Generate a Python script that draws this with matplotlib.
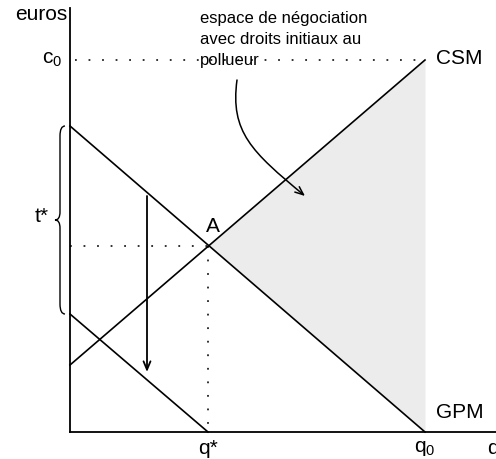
import matplotlib
matplotlib.use('Agg')
import matplotlib.pyplot as plt
from matplotlib.path import Path
from matplotlib.patches import PathPatch, FancyArrowPatch
import numpy as np

plt.rcParams['font.family'] = ['Liberation Sans', 'DejaVu Sans']
plt.rcParams['mathtext.fontset'] = 'custom'
plt.rcParams['mathtext.rm'] = 'Liberation Sans'

# economic coordinates: quantity on x, euros on y
csm_q = [0, 355]
csm_p = [67, 372]
gpm_q = [0, 355]
gpm_p = [306, 0]
gpm_low_q = [0, 138]
gpm_low_p = [118, 0]
q_star = 138
p_star = 186
q0 = 355
c0 = 372
tax_arrow = (77, 236, 60)       # q, p start, p end
note_arrow = [(167, 352), (160, 300), (182, 280), (235, 236)]
note_text = "espace de négociation\navec droits initiaux au\npollueur"

fig = plt.figure(figsize=(4.96, 4.59), dpi=100)
ax = fig.add_axes([0, 0, 1, 1])
ax.set_xlim(-70, 426)
ax.set_ylim(-27, 432)
ax.axis('off')

# shaded negotiation space between CSM and GPM, right of A
qq = np.linspace(q_star, q0, 50)
ax.fill_between(qq, np.interp(qq, gpm_q, gpm_p), np.interp(qq, csm_q, csm_p),
                color='#ececec', lw=0, zorder=1)

# axes
ax.plot([0, 0], [0, 424], color='black', lw=1.3, zorder=3)
ax.plot([0, 426], [0, 0], color='black', lw=1.3, zorder=3)

# curves
ax.plot(csm_q, csm_p, color='black', lw=1.2, zorder=3)
ax.plot(gpm_q, gpm_p, color='black', lw=1.2, zorder=3)
ax.plot(gpm_low_q, gpm_low_p, color='black', lw=1.2, zorder=3)

# dotted guides
dots = dict(color='#222222', lw=1.3, linestyle=(0, (1, 6.5)), zorder=2)
ax.plot([5, q0], [c0, c0], **dots)
ax.plot([0, q_star], [p_star, p_star], **dots)
ax.plot([q_star, q_star], [p_star, 0], **dots)

# vertical shift arrow
ax.add_patch(FancyArrowPatch((tax_arrow[0], tax_arrow[1]), (tax_arrow[0], tax_arrow[2]),
                             arrowstyle='->,head_length=6,head_width=2.5',
                             color='black', lw=1.3, shrinkA=0, shrinkB=0, zorder=4))

# curved arrow from the note
ax.add_patch(FancyArrowPatch(path=Path(note_arrow, [Path.MOVETO, Path.CURVE4, Path.CURVE4, Path.CURVE4]),
                             arrowstyle='->,head_length=6,head_width=2.5',
                             color='black', lw=1.1, zorder=4))

# brace for t*
top, bot = gpm_p[0], gpm_low_p[0]
mid = (top + bot) / 2
verts = [(-5, top), (-10, top), (-10, top - 10),
         (-10, mid + 8),
         (-10, mid), (-15, mid),
         (-10, mid), (-10, mid - 8),
         (-10, bot + 10),
         (-10, bot), (-5, bot)]
codes = [Path.MOVETO, Path.CURVE3, Path.CURVE3, Path.LINETO,
         Path.CURVE3, Path.CURVE3, Path.CURVE3, Path.CURVE3,
         Path.LINETO, Path.CURVE3, Path.CURVE3]
ax.add_patch(PathPatch(Path(verts, codes), fill=False, lw=1.0, color='black'))

fs = 15
ax.text(-3, 418, 'euros', ha='right', va='center', fontsize=fs)
ax.text(-8, c0, r'$\mathregular{c_0}$', ha='right', va='center', fontsize=fs)
ax.text(366, 374, 'CSM', ha='left', va='center', fontsize=fs)
ax.text(366, 19, 'GPM', ha='left', va='center', fontsize=fs)
ax.text(q_star, -16, 'q*', ha='center', va='center', fontsize=fs)
ax.text(q0, -16, r'$\mathregular{q_0}$', ha='center', va='center', fontsize=fs)
ax.text(417, -16, 'q', ha='left', va='center', fontsize=fs)
ax.text(q_star + 5, 205, 'A', ha='center', va='center', fontsize=fs)
ax.text(-28, 216, 't*', ha='center', va='center', fontsize=fs)
ax.text(130, 421, note_text, ha='left', va='top', fontsize=12, linespacing=1.5)

fig.savefig('out.png', dpi=100)
